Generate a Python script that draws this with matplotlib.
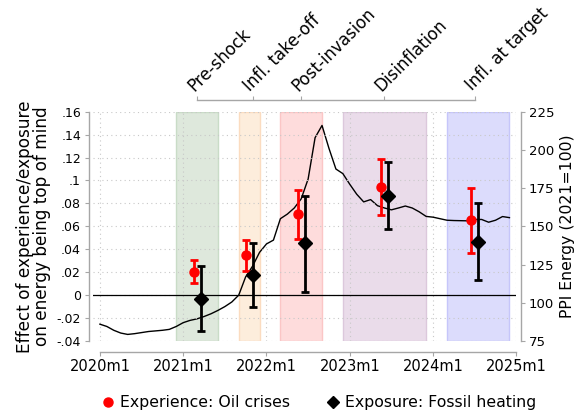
import numpy as np
import matplotlib
matplotlib.use('Agg')
import matplotlib.pyplot as plt

# months counted from 2020m1 (= 0)
ppi_months = list(range(0, 60))
ppi_energy = [86.0, 84.5, 82.0, 80.2, 79.3, 79.8, 80.5, 81.2, 81.6, 82.0,
              82.6, 84.5, 87.0, 88.5, 89.5, 91.0, 92.8, 95.0, 97.5, 100.5,
              105.0, 117.0, 124.0, 133.0, 138.5, 141.0, 155.0, 158.0, 162.0, 168.0,
              181.0, 208.0, 216.0, 201.0, 187.5, 184.5, 177.5, 171.0, 166.0, 167.5,
              163.5, 162.0, 160.8, 162.0, 163.3, 162.0, 159.5, 156.5, 156.0, 155.0,
              154.0, 153.8, 153.7, 153.6, 154.5, 154.5, 152.7, 154.0, 156.4, 155.7]

phase_names = ['Pre-shock', 'Infl. take-off', 'Post-invasion', 'Disinflation', 'Infl. at target']
phase_start = [11, 20, 26, 35, 50]
phase_end = [17, 23, 32, 47, 59]
phase_ticks = [14, 22, 29, 41, 54]
phase_fill = ['#dee8dc', '#fdeddc', '#fedcdc', '#eadcea', '#dcdcfc']
phase_edge = ['#c9dcc7', '#fbdcc0', '#fbc6c6', '#dcc8dc', '#c6c6fa']

exp_x = [13.5, 21.0, 28.5, 40.5, 53.5]
exp_est = [0.0203, 0.0349, 0.0707, 0.0945, 0.0655]
exp_lo = [0.0108, 0.0207, 0.0491, 0.0698, 0.0369]
exp_hi = [0.0305, 0.0483, 0.0919, 0.1190, 0.0934]

fos_x = [14.5, 22.0, 29.5, 41.5, 54.5]
fos_est = [-0.0035, 0.0175, 0.0451, 0.0867, 0.0465]
fos_lo = [-0.0314, -0.0107, 0.0029, 0.0576, 0.0128]
fos_hi = [0.0256, 0.0454, 0.0867, 0.1164, 0.0803]

year_ticks = [0, 12, 24, 36, 48, 60]
year_labels = ['2020m1', '2021m1', '2022m1', '2023m1', '2024m1', '2025m1']
left_ticks = [0.16, 0.14, 0.12, 0.10, 0.08, 0.06, 0.04, 0.02, 0.0, -0.02, -0.04]
left_labels = ['.16', '.14', '.12', '.1', '.08', '.06', '.04', '.02', '0', '-.02', '-.04']
right_ticks = [225, 200, 175, 150, 125, 100, 75]

spine_gray = '#a6a6a6'


def style_spine(ax, side, offset, bounds):
    sp = ax.spines[side]
    sp.set_visible(True)
    sp.set_position(('outward', offset))
    sp.set_bounds(*bounds)
    sp.set_color(spine_gray)
    sp.set_linewidth(1.0)


def main():
    fig = plt.figure(figsize=(5.84, 4.16), dpi=100)
    ax2 = fig.add_axes([0.1592, 0.1803, 0.7250, 0.5512])
    ax = ax2.twinx()
    ax.set_zorder(ax2.get_zorder() + 1)
    ax.patch.set_visible(False)
    top = ax2.twiny()

    for a in (ax, ax2, top):
        for s in a.spines.values():
            s.set_visible(False)

    # left scale lives on the twin so the estimates sit above the PPI line
    ax.yaxis.tick_left()
    ax.yaxis.set_label_position('left')
    ax2.yaxis.tick_right()
    ax2.yaxis.set_label_position('right')

    # spines first: moving a spine resets the tick labels
    style_spine(ax, 'left', 2.7, (-0.04, 0.16))
    style_spine(ax2, 'bottom', 7.7, (0, 60))
    style_spine(ax2, 'right', 3.1, (75, 225))
    style_spine(top, 'top', 8.4, (phase_ticks[0], phase_ticks[-1]))

    # phases
    for x0, x1, fc, ec in zip(phase_start, phase_end, phase_fill, phase_edge):
        ax2.axvspan(x0, x1, facecolor=fc, edgecolor=ec, linewidth=1.0, zorder=0)

    ax2.plot(ppi_months, ppi_energy, color='black', linewidth=1.0, zorder=2)
    ax2.set_ylim(75, 225)
    ax2.set_xlim(-1, 60)
    top.set_xlim(-1, 60)

    ax.set_ylim(-0.04, 0.16)
    ax.set_yticks(left_ticks)
    ax.set_yticklabels(left_labels, fontsize=9)
    ax.grid(axis='y', linestyle=(0, (1, 3)), color='#c8c8c8', linewidth=0.8)
    ax2.set_xticks(year_ticks)
    ax2.set_xticklabels(year_labels, fontsize=10.5)
    ax2.grid(axis='x', linestyle=(0, (1, 3)), color='#c8c8c8', linewidth=0.8)
    ax.axhline(0, color='black', linewidth=0.9, zorder=3)

    ax.errorbar(exp_x, exp_est,
                yerr=[np.subtract(exp_est, exp_lo), np.subtract(exp_hi, exp_est)],
                fmt='o', color='red', markersize=6.5, elinewidth=2.0,
                capsize=3, capthick=2.0, zorder=5)
    ax.errorbar(fos_x, fos_est,
                yerr=[np.subtract(fos_est, fos_lo), np.subtract(fos_hi, fos_est)],
                fmt='D', color='black', markersize=7, elinewidth=2.0,
                capsize=3, capthick=2.0, zorder=6)

    ax.set_ylabel('Effect of experience/exposure\non energy being top of mind',
                  fontsize=12.2, labelpad=4, linespacing=0.95)
    ax2.set_yticks(right_ticks)
    ax2.set_yticklabels([str(t) for t in right_ticks], fontsize=9.5)
    ax2.set_ylabel('PPI Energy (2021=100)', fontsize=11.3, labelpad=4)

    ax.tick_params(axis='y', direction='out', length=3, color=spine_gray, pad=3)
    ax.tick_params(axis='x', bottom=False, labelbottom=False)
    ax2.tick_params(axis='x', direction='out', length=3, color=spine_gray, pad=2)
    ax2.tick_params(axis='y', direction='out', length=3, color=spine_gray, pad=3)

    # phase labels on top
    top.set_xticks(phase_ticks)
    top.set_xticklabels(phase_names, fontsize=12, rotation=45, ha='left',
                        va='bottom', rotation_mode='anchor')
    top.tick_params(axis='x', direction='out', length=3, color=spine_gray, pad=1)
    top.tick_params(axis='y', left=False, right=False, labelleft=False, labelright=False)

    labels = ['Experience: Oil crises', 'Exposure: Fossil heating']
    leg_handles = [plt.Line2D([], [], marker='o', color='red', linestyle='none', markersize=6.5),
                   plt.Line2D([], [], marker='D', color='black', linestyle='none', markersize=6.5)]
    fig.legend(leg_handles, labels, loc='center', bbox_to_anchor=(318 / 584, 0.032),
               ncol=2, frameon=False, fontsize=11.3, handletextpad=0.3,
               columnspacing=2.2, handlelength=1.0)

    fig.savefig('out.png', dpi=100)


if __name__ == '__main__':
    main()
